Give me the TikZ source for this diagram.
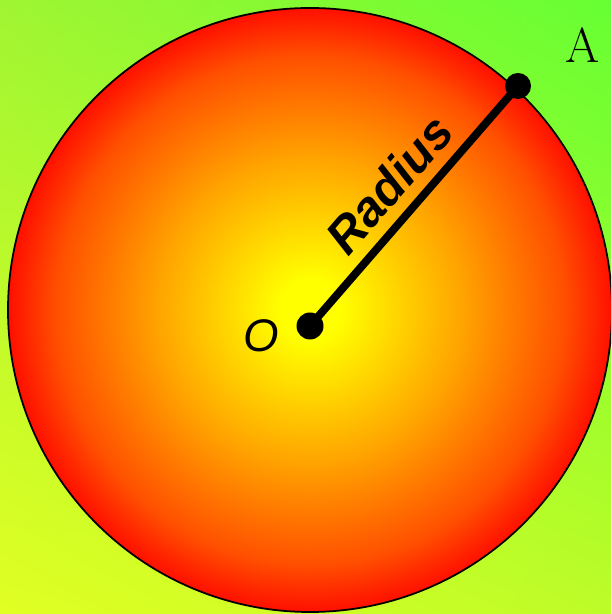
\documentclass[tikz,border=0pt]{standalone}
\usepackage{fontspec}
\newfontfamily\arialfont{Liberation Sans}
\definecolor{BgGreen}{RGB}{102,255,51}
\definecolor{BgLime}{RGB}{160,245,50}
\definecolor{BgYellow}{RGB}{225,255,35}
\definecolor{BgMid}{RGB}{190,252,40}
\definecolor{SunRed}{RGB}{255,15,0}
\definecolor{SunDeep}{RGB}{255,80,0}
\definecolor{SunOrange}{RGB}{255,165,0}
\definecolor{SunYellow}{RGB}{255,255,0}
\usetikzlibrary{positioning, calc, shadings}
\pgfdeclareradialshading{sunball}{\pgfpoint{0bp}{0bp}}{%
  color(0bp)=(SunYellow); color(2.5bp)=(SunYellow); color(12.5bp)=(SunOrange);
  color(21bp)=(SunDeep); color(25bp)=(SunRed); color(50bp)=(SunRed)}

\begin{document}
\begin{tikzpicture}[
      dot/.style={circle, fill=black, inner sep=0pt, minimum size=0.54cm},
      radlbl/.style={font=\arialfont\bfseries\itshape\fontsize{28}{30}\selectfont}
    ]
      \useasboundingbox (0,0) rectangle (12.22,12.28);
      \clip (0,0) rectangle (12.22,12.28);
      % background
      \shade[upper left=BgLime, upper right=BgGreen, lower left=BgYellow, lower right=BgMid]
        (0,0) rectangle (12.22,12.28);
      % circle
      \shade[shading=sunball] (6.2,6.08) circle (6.04);
      \draw[line width=1pt] (6.2,6.08) circle (6.04);
      % points
      \node[dot] (o) at (6.2,5.76) {};
      \node[dot, minimum size=0.52cm] (a) at (10.36,10.56) {};
      \draw[line width=4.5pt] (o.center) -- node[radlbl, sloped, above=3pt, pos=0.5] (rad) {Radius} (a.center);
      \node[font=\arialfont\itshape\fontsize{26}{28}\selectfont] (olbl) at (5.22,5.56) {O};
      \node[font=\fontsize{28}{30}\selectfont] (albl) at (11.66,11.38) {A};
    \end{tikzpicture}
\end{document}
